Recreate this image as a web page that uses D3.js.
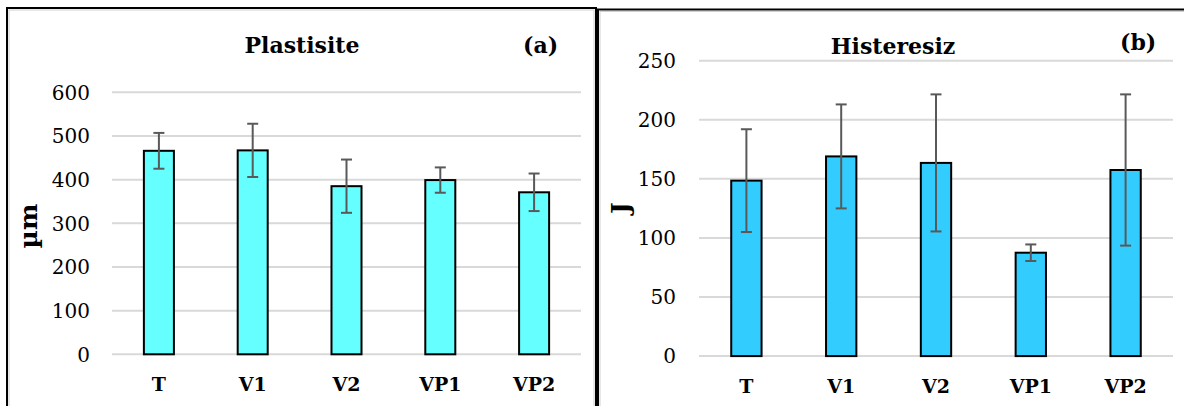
<!DOCTYPE html>
<html>
<head>
<meta charset="utf-8">
<script src="https://cdn.jsdelivr.net/npm/d3@7"></script>
<style>
  html, body { margin: 0; padding: 0; background: #fff; }
  svg { display: block; font-family: "DejaVu Serif", serif; }
</style>
</head>
<body>
<svg id="chart" width="1184" height="406"></svg>
<script>
// category labels shared by both panels
var categories = ["T", "V1", "V2", "VP1", "VP2"];

// (a) Plastisite, µm
var plastValues = [466, 467, 385, 399, 371];
var plastErrors = [41, 61, 61, 29, 43];
var plastTicks = [0, 100, 200, 300, 400, 500, 600];

// (b) Histeresiz, J
var histValues = [148.5, 169, 163.5, 87.5, 157.5];
var histErrors = [43.5, 44, 58, 7, 64];
var histTicks = [0, 50, 100, 150, 200, 250];

var svg = d3.select('#chart');

// draws one framed panel with bars + error bars
function drawPanel(opts) {
	var g = svg.append('g');

	// frame (runs off the bottom / right of the picture)
	g.append('rect')
		.attr('x', opts.frame[0]).attr('y', opts.frame[1])
		.attr('width', opts.frame[2]).attr('height', 500)
		.attr('fill', 'none')
		.attr('stroke', '#000').attr('stroke-width', 2);
	g.append('rect')
		.attr('x', opts.frame[0] + 2).attr('y', opts.frame[1] + 2)
		.attr('width', opts.frame[2] - 4).attr('height', 500)
		.attr('fill', 'none')
		.attr('stroke', '#cfcfcf').attr('stroke-width', 1);

	var x = d3.scaleBand()
		.domain(categories)
		.range([opts.left, opts.right])
		.padding(0);

	var y = d3.scaleLinear()
		.domain([0, d3.max(opts.ticks)])
		.range([opts.bottom, opts.top]);

	// gridlines
	g.append('g').selectAll('line')
		.data(opts.ticks)
		.enter().append('line')
		.attr('x1', opts.left).attr('x2', opts.right)
		.attr('y1', function (d) { return y(d); })
		.attr('y2', function (d) { return y(d); })
		.attr('stroke', '#d9d9d9').attr('stroke-width', 2);

	// y tick labels
	g.append('g').selectAll('text')
		.data(opts.ticks)
		.enter().append('text')
		.attr('x', opts.tickX)
		.attr('y', function (d) { return y(d); })
		.attr('dy', '0.36em')
		.attr('text-anchor', 'end')
		.style('font-size', '20px')
		.attr('fill', '#000')
		.text(function (d) { return d; });

	var data = categories.map(function (c, i) {
		return { cat: c, v: opts.values[i], e: opts.errors[i] };
	});
	var bw = x.bandwidth() * 0.32;

	// bars
	g.append('g').selectAll('rect')
		.data(data)
		.enter().append('rect')
		.attr('x', function (d) { return x(d.cat) + (x.bandwidth() - bw) / 2; })
		.attr('y', function (d) { return y(d.v); })
		.attr('width', bw)
		.attr('height', function (d) { return y(0) - y(d.v); })
		.attr('fill', opts.color)
		.attr('stroke', '#000').attr('stroke-width', 2);

	// error bars
	var err = g.append('g').selectAll('g')
		.data(data)
		.enter().append('g')
		.attr('stroke', '#595959').attr('stroke-width', 2);
	var cx = function (d) { return x(d.cat) + x.bandwidth() / 2; };
	err.append('line')
		.attr('x1', cx).attr('x2', cx)
		.attr('y1', function (d) { return y(d.v + d.e); })
		.attr('y2', function (d) { return y(d.v - d.e); });
	[1, -1].forEach(function (s) {
		err.append('line')
			.attr('x1', function (d) { return cx(d) - 5.5; })
			.attr('x2', function (d) { return cx(d) + 5.5; })
			.attr('y1', function (d) { return y(d.v + s * d.e); })
			.attr('y2', function (d) { return y(d.v + s * d.e); });
	});

	// category labels
	g.append('g').selectAll('text')
		.data(categories)
		.enter().append('text')
		.attr('x', function (d) { return x(d) + x.bandwidth() / 2; })
		.attr('y', opts.catY)
		.attr('text-anchor', 'middle')
		.style('font-size', '19px').style('font-weight', 'bold')
		.text(function (d) { return d; });

	// title + panel letter
	g.append('text')
		.attr('x', opts.titleX).attr('y', opts.titleY)
		.attr('text-anchor', 'middle')
		.style('font-size', '22px').style('font-weight', 'bold')
		.text(opts.title);
	g.append('text')
		.attr('x', opts.letterX).attr('y', opts.letterY)
		.style('font-size', '22px').style('font-weight', 'bold')
		.text(opts.letter);

	// y axis title
	g.append('text')
		.attr('transform', 'translate(' + opts.yTitleX + ',' + opts.yTitleY + ') rotate(-90)')
		.attr('text-anchor', 'middle')
		.style('font-size', '25px').style('font-weight', 'bold')
		.text(opts.yTitle);
}

drawPanel({
	frame: [7, 8, 589],
	left: 112, right: 581, top: 92.3, bottom: 354.3,
	ticks: plastTicks, values: plastValues, errors: plastErrors,
	color: '#66ffff', tickX: 90, catY: 391,
	title: 'Plastisite', titleX: 302, titleY: 53,
	letter: '(a)', letterX: 523, letterY: 53,
	yTitle: 'µm', yTitleX: 37, yTitleY: 226
});

drawPanel({
	frame: [598, 9.5, 600],
	left: 699, right: 1173, top: 60.7, bottom: 356.1,
	ticks: histTicks, values: histValues, errors: histErrors,
	color: '#33ccff', tickX: 676, catY: 393,
	title: 'Histeresiz', titleX: 893, titleY: 54,
	letter: '(b)', letterX: 1120, letterY: 50,
	yTitle: 'J', yTitleX: 629, yTitleY: 208
});
</script>
</body>
</html>
